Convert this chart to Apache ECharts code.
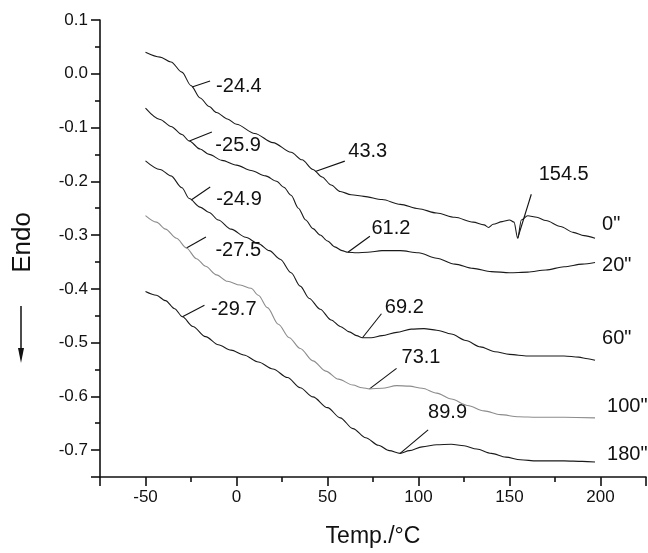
<!DOCTYPE html>
<html>
<head>
<meta charset="utf-8">
<script src="https://cdn.jsdelivr.net/npm/echarts@6/dist/echarts.min.js"></script>
<style>
html, body { margin: 0; padding: 0; background: #fff; }
#chart { width: 648px; height: 553px; }
</style>
</head>
<body>
<div id="chart"></div>
<script>
// DSC heating curves (heat flow vs temperature) after different treatment times
const seriesNames = ['0"', '20"', '60"', '100"', '180"'];

const curve0 = [[-50,0.040],[-42,0.031],[-36,0.022],[-30,0.003],[-25,-0.022],[-20,-0.045],[-15,-0.061],[-11,-0.072],[-5,-0.084],[0,-0.094],[10,-0.111],[20,-0.128],[30,-0.146],[36,-0.160],[42,-0.178],[47,-0.192],[52,-0.207],[57,-0.219],[63,-0.225],[70,-0.228],[80,-0.234],[90,-0.243],[100,-0.251],[110,-0.259],[120,-0.267],[130,-0.276],[136,-0.281],[138.5,-0.286],[141,-0.280],[146,-0.275],[150,-0.272],[152.5,-0.276],[154.5,-0.306],[156.5,-0.272],[160,-0.264],[165,-0.267],[170,-0.273],[178,-0.284],[185,-0.295],[191,-0.301],[197,-0.306]];
const curve20 = [[-50,-0.064],[-42,-0.085],[-36,-0.098],[-30,-0.113],[-26,-0.125],[-20,-0.140],[-15,-0.150],[-8,-0.161],[0,-0.170],[8,-0.180],[16,-0.190],[22,-0.200],[26,-0.211],[30,-0.226],[34,-0.250],[38,-0.272],[42,-0.288],[46,-0.300],[50,-0.311],[54,-0.322],[58,-0.329],[61.2,-0.332],[66,-0.333],[72,-0.332],[80,-0.329],[90,-0.329],[100,-0.333],[110,-0.343],[120,-0.354],[130,-0.362],[140,-0.368],[150,-0.370],[160,-0.369],[170,-0.365],[180,-0.359],[190,-0.354],[197,-0.351]];
const curve60 = [[-50,-0.162],[-42,-0.178],[-36,-0.190],[-30,-0.212],[-26,-0.232],[-20,-0.248],[-15,-0.258],[-10,-0.272],[-3,-0.289],[5,-0.304],[12,-0.316],[18,-0.329],[24,-0.345],[30,-0.370],[35,-0.395],[40,-0.418],[46,-0.438],[52,-0.458],[57,-0.470],[62,-0.480],[66,-0.487],[69.2,-0.491],[74,-0.491],[80,-0.487],[88,-0.481],[96,-0.475],[103,-0.474],[110,-0.477],[118,-0.484],[126,-0.496],[134,-0.508],[142,-0.517],[150,-0.522],[160,-0.525],[170,-0.525],[180,-0.525],[188,-0.527],[193,-0.530],[197,-0.533]];
const curve100 = [[-50,-0.264],[-44,-0.276],[-39,-0.289],[-33,-0.306],[-27.5,-0.324],[-22,-0.344],[-17,-0.358],[-11,-0.374],[-5,-0.386],[2,-0.393],[8,-0.399],[12,-0.412],[17,-0.435],[23,-0.466],[29,-0.491],[35,-0.511],[42,-0.534],[49,-0.553],[56,-0.568],[64,-0.579],[69,-0.584],[73.1,-0.586],[80,-0.585],[88,-0.580],[95,-0.581],[102,-0.585],[110,-0.594],[118,-0.605],[127,-0.617],[136,-0.627],[145,-0.634],[155,-0.638],[165,-0.639],[180,-0.639],[197,-0.640]];
const curve180 = [[-50,-0.405],[-44,-0.412],[-39,-0.422],[-34,-0.437],[-29.7,-0.452],[-24,-0.470],[-17,-0.489],[-10,-0.504],[-3,-0.514],[4,-0.523],[12,-0.536],[20,-0.549],[28,-0.565],[35,-0.584],[42,-0.601],[50,-0.621],[57,-0.640],[64,-0.660],[71,-0.677],[78,-0.691],[84,-0.701],[89.9,-0.706],[95,-0.701],[102,-0.694],[110,-0.690],[118,-0.689],[125,-0.692],[132,-0.698],[140,-0.706],[148,-0.713],[156,-0.718],[165,-0.720],[180,-0.720],[190,-0.721],[197,-0.722]];

// Marked transition temperatures (°C); onset and peak one per curve, melting peak on 0"
const onsetTemps = [-24.4, -25.9, -24.9, -27.5, -29.7];
const peakTemps = [43.3, 61.2, 69.2, 73.1, 89.9];
const meltTemp = 154.5;

const curves = [curve0, curve20, curve60, curve100, curve180];

// Placement of the annotation leader lines and texts, in pixels from the marked point:
// [leader end dx, leader end dy, text dx, text dy]
const annotationLayout = [
  [18, -6, 24, -0.5],
  [22.5, -9, 26, 4.5],
  [19, -13, 25, -1],
  [19.5, -11, 29, 2.5],
  [22, -11.5, 28.5, -7.5],
  [29.5, -10.3, 33, -20.3],
  [22, -16, 23.6, -23.3],
  [19, -24, 22.4, -30],
  [27, -20.4, 32, -31.4],
  [28, -23.5, 28, -41],
  [13.6, -44, 21, -64]
];
// End label offsets [dx, dy] for each curve name
const endLabelOffsets = [[7, -14], [7, 3], [7, -22], [12, -11], [12, -7]];
const lineColors = ['#1a1a1a', '#1a1a1a', '#1a1a1a', '#8c8c8c', '#1a1a1a'];

// Position of a temperature on a curve (between its sampled points)
function yAt(curve, t) {
  for (let i = 1; i < curve.length; i++) {
    const a = curve[i - 1], b = curve[i];
    if (t >= a[0] && t <= b[0]) {
      const f = (t - a[0]) / (b[0] - a[0]);
      return a[1] + f * (b[1] - a[1]);
    }
  }
  return curve[curve.length - 1][1];
}

const annotationPoints = [];
onsetTemps.forEach((t, i) => annotationPoints.push([t, yAt(curves[i], t)]));
peakTemps.forEach((t, i) => annotationPoints.push([t, yAt(curves[i], t)]));
annotationPoints.push([meltTemp, yAt(curves[0], meltTemp)]);

const FONT = '"Liberation Sans", Arial, Helvetica, sans-serif';

const lineSeries = curves.map((c, i) => ({
  type: 'line',
  name: seriesNames[i],
  data: c,
  showSymbol: false,
  symbol: 'none',
  smooth: 0.3,
  smoothMonotone: 'x',
  lineStyle: { color: lineColors[i], width: 1.1 },
  endLabel: {
    show: true,
    formatter: seriesNames[i],
    distance: 0,
    offset: endLabelOffsets[i],
    color: '#111',
    fontSize: 20,
    fontFamily: FONT
  },
  silent: true
}));

const annotationSeries = {
  type: 'custom',
  data: annotationPoints,
  clip: false,
  silent: true,
  renderItem: function (params, api) {
    const p = api.coord([api.value(0), api.value(1)]);
    const lay = annotationLayout[params.dataIndex];
    return {
      type: 'group',
      children: [
        {
          type: 'line',
          shape: { x1: p[0], y1: p[1], x2: p[0] + lay[0], y2: p[1] + lay[1] },
          style: { stroke: '#111', lineWidth: 1.1 }
        },
        {
          type: 'text',
          style: {
            x: p[0] + lay[2],
            y: p[1] + lay[3],
            text: api.value(0).toFixed(1),
            fill: '#111',
            font: '20px ' + FONT,
            align: 'left',
            verticalAlign: 'middle'
          }
        }
      ]
    };
  }
};

const chart = echarts.init(document.getElementById('chart'), null, { renderer: 'canvas' });
chart.setOption({
  animation: false,
  backgroundColor: '#fff',
  grid: { left: 100, top: 20, width: 546, height: 459 },
  xAxis: {
    type: 'value',
    min: -75,
    max: 225,
    splitNumber: 5,
    name: 'Temp./°C',
    nameLocation: 'middle',
    nameGap: 48,
    nameTextStyle: { color: '#111', fontSize: 23, fontFamily: FONT },
    axisLine: { show: true, onZero: false, lineStyle: { color: '#111', width: 1.6 } },
    axisTick: { show: true, length: 9, lineStyle: { color: '#111', width: 1.6 } },
    minorTick: { show: true, splitNumber: 2, length: 5, lineStyle: { color: '#111', width: 1.6 } },
    splitLine: { show: false },
    axisLabel: {
      color: '#111', fontSize: 17, fontFamily: FONT, margin: 12,
      showMinLabel: false, showMaxLabel: false,
      formatter: v => (Math.round(v) % 50 === 0 ? String(Math.round(v)) : '')
    }
  },
  yAxis: {
    type: 'value',
    min: -0.75,
    max: 0.1,
    splitNumber: 8,
    name: 'Endo',
    nameLocation: 'middle',
    nameRotate: 90,
    nameGap: 64,
    nameTextStyle: { color: '#111', fontSize: 26, fontFamily: FONT, padding: [0, 0, 0, 12] },
    axisLine: { show: true, onZero: false, lineStyle: { color: '#111', width: 1.6 } },
    axisTick: { show: true, length: 9, lineStyle: { color: '#111', width: 1.6 } },
    minorTick: { show: true, splitNumber: 2, length: 5, lineStyle: { color: '#111', width: 1.6 } },
    splitLine: { show: false },
    axisLabel: {
      color: '#111', fontSize: 17, fontFamily: FONT, margin: 12,
      showMinLabel: false,
      formatter: v => (Math.abs(v) < 1e-9 ? '0.0' : v.toFixed(1))
    }
  },
  graphic: [
    {
      type: 'group',
      silent: true,
      children: [
        { type: 'line', shape: { x1: 21, y1: 306, x2: 21, y2: 352 }, style: { stroke: '#111', lineWidth: 1.5 } },
        { type: 'polygon', shape: { points: [[18, 348], [24, 348], [21, 363]] }, style: { fill: '#111' } }
      ]
    }
  ],
  series: lineSeries.concat([annotationSeries])
});
</script>
</body>
</html>
